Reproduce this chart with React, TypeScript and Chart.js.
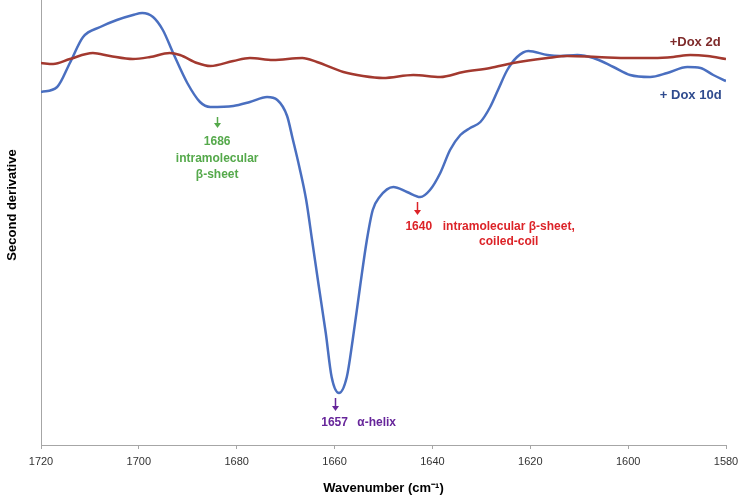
import React, { useEffect, useRef } from "react";
import { Chart, registerables } from "chart.js";

Chart.register(...registerables);

// Wavenumber (cm-1) and second-derivative values (arbitrary units)
const dox10dWavenumbers = [
  1720, 1716.7, 1714.1, 1711.4, 1707.9, 1704.5, 1701.2, 1699.3, 1697.1, 1695.1, 1693.0, 1690.1,
  1687.5, 1685.4, 1680.7, 1677.3, 1673.8, 1671.7, 1669.7, 1668.6, 1667.2, 1665.8, 1664.6,
  1663.2, 1661.8, 1660.6, 1659.1, 1657.5, 1656.3, 1654.8, 1653.4, 1652.2, 1650.8, 1648.0, 1645.2,
  1642.5, 1640.5, 1638.4, 1636.4, 1634.3, 1632.3, 1630.2, 1628.2, 1626.6, 1624.7, 1622.7, 1620.4,
  1616.5, 1613.9, 1610.4, 1607.1, 1603.0, 1599.6, 1595.5, 1592.0, 1587.9, 1585.2, 1582.6, 1580,
];
const dox10dValues = [
  -32, -27, -3, 23, 33, 40, 45, 47, 43, 30, 7, -23,
  -42, -47, -46, -42, -37, -40, -56, -78, -107, -140, -180,
  -227, -273, -317, -333, -317, -280, -227, -180, -150, -137, -127, -132,
  -137, -130, -113, -90, -75, -68, -62, -47, -30, -10, 3, 9,
  5, 4, 5, 2, -7, -15, -17, -13, -7, -8, -15, -21,
];

const dox2dWavenumbers = [
  1720, 1717.5, 1714.1, 1709.4, 1705.9, 1701.2, 1697.7, 1693.7, 1691.6, 1688.1, 1685.4, 1680.7,
  1677.3, 1672.6, 1666.6, 1663.6, 1658.2, 1654.2, 1650.1, 1643.9, 1638.4, 1633.7, 1628.2, 1623.5,
  1616.5, 1612.4, 1606.3, 1599.6, 1594.8, 1590.8, 1587.3, 1583.8, 1580,
];
const dox2dValues = [
  -3, -4, 1, 7, 4, 1, 3, 7, 5, -3, -6, -1,
  2, 0, 2, -2, -12, -16, -18, -15, -17, -12, -8, -3,
  2, 4, 3, 2, 2, 3, 5, 4, 1,
];

const xTicks = [1720, 1700, 1680, 1660, 1640, 1620, 1600, 1580];

const seriesNames = ["+Dox 2d", "+ Dox 10d"];

const FONT = "'Liberation Sans', Arial, sans-serif";

type Note = { w: number; v: number; text: string; color: string; align?: CanvasTextAlign };
type Arrow = { w: number; v1: number; v2: number; color: string };

const notes: Note[] = [
  { w: 1684.0, v: -82, text: "1686", color: "#55a94b" },
  { w: 1684.0, v: -99, text: "intramolecular", color: "#55a94b" },
  { w: 1684.0, v: -115, text: "β-sheet", color: "#55a94b" },
  { w: 1642.8, v: -167, text: "1640", color: "#dc2328" },
  { w: 1624.4, v: -167, text: "intramolecular β-sheet,", color: "#dc2328" },
  { w: 1624.4, v: -182, text: "coiled-coil", color: "#dc2328" },
  { w: 1660.0, v: -363, text: "1657", color: "#66259a" },
  { w: 1651.4, v: -363, text: "α-helix", color: "#66259a" },
];

const arrows: Arrow[] = [
  { w: 1684.0, v1: -57, v2: -68, color: "#55a94b" },
  { w: 1643.1, v1: -142, v2: -155, color: "#dc2328" },
  { w: 1660.0, v1: -338, v2: -351, color: "#66259a" },
];

const annotationPlugin = {
  id: "annotations",
  afterDatasetsDraw(chart: any) {
    const { ctx, scales, chartArea } = chart;
    const xs = scales.x;
    const ys = scales.y;
    ctx.save();
    arrows.forEach((a) => {
      const x = Math.round(xs.getPixelForValue(a.w)) + 0.5;
      const y1 = ys.getPixelForValue(a.v1);
      const y2 = ys.getPixelForValue(a.v2);
      ctx.strokeStyle = a.color;
      ctx.fillStyle = a.color;
      ctx.lineWidth = 1.5;
      ctx.beginPath();
      ctx.moveTo(x, y1);
      ctx.lineTo(x, y2 - 4);
      ctx.stroke();
      ctx.beginPath();
      ctx.moveTo(x - 3.5, y2 - 5);
      ctx.lineTo(x + 3.5, y2 - 5);
      ctx.lineTo(x, y2);
      ctx.closePath();
      ctx.fill();
    });
    ctx.font = `bold 12px ${FONT}`;
    ctx.textBaseline = "middle";
    notes.forEach((n) => {
      ctx.fillStyle = n.color;
      ctx.textAlign = n.align || "center";
      ctx.fillText(n.text, xs.getPixelForValue(n.w), ys.getPixelForValue(n.v));
    });
    ctx.font = `bold 13px ${FONT}`;
    ctx.textAlign = "right";
    ctx.fillStyle = "#7f2b2b";
    ctx.fillText(seriesNames[0], xs.getPixelForValue(1581.1), ys.getPixelForValue(18));
    ctx.fillStyle = "#2f4b8e";
    ctx.fillText(seriesNames[1], xs.getPixelForValue(1580.9), ys.getPixelForValue(-35));
    ctx.fillStyle = "#000";
    ctx.textAlign = "center";
    ctx.fillText("Wavenumber (cm⁻¹)", (chartArea.left + chartArea.right) / 2, 488);
    ctx.save();
    ctx.translate(12, 205);
    ctx.rotate(-Math.PI / 2);
    ctx.fillText("Second derivative", 0, 0);
    ctx.restore();
    ctx.restore();
  },
};

export default function App() {
  const canvasRef = useRef<HTMLCanvasElement | null>(null);

  useEffect(() => {
    document.body.style.margin = "0";
    const canvas = canvasRef.current;
    if (!canvas) return;
    const chart = new Chart(canvas, {
      type: "line",
      data: {
        datasets: [
          {
            label: seriesNames[0],
            data: dox2dWavenumbers.map((w, i) => ({ x: w, y: dox2dValues[i] })),
            borderColor: "#a3392f",
            borderWidth: 2.5,
            pointRadius: 0,
            cubicInterpolationMode: "monotone",
            fill: false,
          },
          {
            label: seriesNames[1],
            data: dox10dWavenumbers.map((w, i) => ({ x: w, y: dox10dValues[i] })),
            borderColor: "#4a6fc0",
            borderWidth: 2.5,
            pointRadius: 0,
            cubicInterpolationMode: "monotone",
            fill: false,
          },
        ],
      },
      options: {
        responsive: false,
        animation: false,
        layout: { padding: 0 },
        plugins: {
          legend: { display: false },
          tooltip: { enabled: false },
          title: { display: false },
        },
        scales: {
          x: {
            type: "linear",
            reverse: true,
            min: 1580,
            max: 1720,
            afterBuildTicks: (scale: any) => {
              scale.ticks = xTicks.map((v) => ({ value: v }));
            },
            ticks: {
              font: { family: FONT, size: 11 },
              color: "#333",
              padding: 6,
              maxRotation: 0,
              autoSkip: false,
              callback: (v: any) => String(v),
            },
            grid: { drawOnChartArea: false, drawTicks: true, tickLength: 4, color: "#a6a6a6" },
            border: { display: true, color: "#a6a6a6", width: 1 },
            afterFit: (scale: any) => {
              scale.height = 52;
              scale.paddingRight = 12;
            },
          },
          y: {
            min: -385,
            max: 60,
            ticks: { display: false },
            grid: { display: false, drawTicks: false },
            border: { display: true, color: "#a6a6a6", width: 1 },
            afterFit: (scale: any) => {
              scale.width = 41;
            },
          },
        },
      },
      plugins: [annotationPlugin],
    });
    return () => chart.destroy();
  }, []);

  return (
    <div style={{ position: "absolute", left: 0, top: 0, width: 738, height: 497 }}>
      <canvas ref={canvasRef} width={738} height={497} />
    </div>
  );
}
